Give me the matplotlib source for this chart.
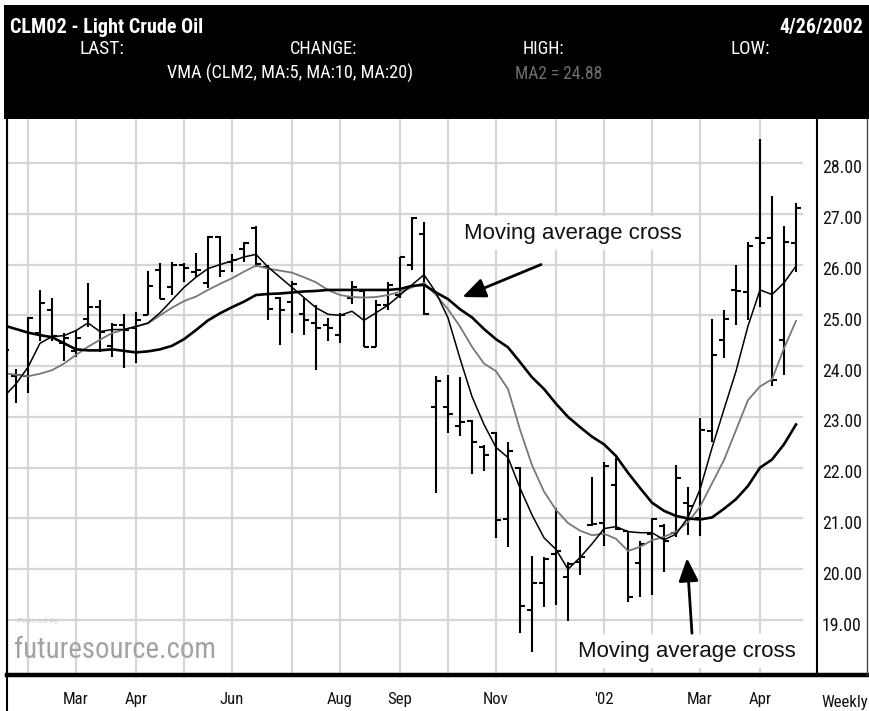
import matplotlib
matplotlib.use("Agg")
import matplotlib.pyplot as plt
import matplotlib.font_manager as fm
from matplotlib.transforms import ScaledTranslation
from matplotlib.lines import Line2D
from matplotlib.patches import Rectangle

# ---------------------------------------------------------------
# CLM02 light crude oil, weekly bars (one entry per week)
# ---------------------------------------------------------------
opens = [24.30, 23.80, 23.80, 24.65, 25.10, 24.45, 24.30, 24.92, 25.16, 24.40,
         24.80, 24.75, 25.00, 25.90, 25.55, 26.00, 25.85, 25.64, 26.55, 26.05,
         26.30, 26.72, 25.95, 25.35, 25.27, 25.02, 24.85, 24.80, 24.62, 25.35,
         25.48, 24.38, 25.20, 25.40, 26.00, 26.60, 23.20, 23.20, 22.82, 22.92,
         22.40, 22.68, 20.98, 22.00, 19.20, 19.73, 20.30, 19.85, 20.15, 20.88,
         20.92, 21.66, 20.75, 20.13, 20.70, 20.85, 20.72, 21.30, 21.00, 22.72,
         24.52, 25.50, 25.45, 26.52, 26.52, 24.52, 26.42]
highs = [24.55, 23.95, 24.97, 25.50, 25.35, 24.65, 24.72, 25.64, 25.30, 24.85,
         25.03, 25.07, 25.87, 26.04, 26.05, 26.03, 26.23, 26.57, 26.57, 26.20,
         26.45, 26.75, 26.00, 25.36, 25.68, 25.35, 25.20, 24.95, 25.05, 25.68,
         25.50, 25.30, 25.65, 26.15, 26.94, 26.84, 23.80, 23.82, 23.78, 22.93,
         22.45, 22.70, 22.50, 22.02, 20.27, 20.25, 21.20, 20.15, 20.65, 21.82,
         22.12, 22.20, 20.75, 20.55, 21.00, 20.90, 22.05, 21.62, 22.98, 24.93,
         25.10, 26.00, 26.45, 28.47, 27.35, 26.75, 27.22]
lows = [24.10, 23.28, 23.47, 24.50, 24.50, 24.10, 24.18, 24.77, 24.27, 24.18,
        23.97, 24.06, 25.00, 25.32, 25.40, 25.66, 25.76, 25.54, 25.75, 25.86,
        26.05, 25.95, 24.90, 24.42, 24.65, 24.62, 23.93, 24.50, 24.45, 25.22,
        24.38, 24.38, 25.10, 25.35, 25.90, 25.00, 21.50, 22.68, 22.62, 21.88,
        21.93, 20.62, 20.44, 18.75, 18.38, 19.26, 19.30, 18.98, 19.88, 20.85,
        20.45, 20.78, 19.36, 19.45, 19.50, 19.95, 20.64, 20.68, 20.66, 22.50,
        24.15, 24.80, 24.90, 25.17, 23.60, 23.82, 25.85]
closes = [24.32, 23.82, 24.95, 25.25, 24.60, 24.55, 24.55, 25.16, 24.68, 24.80,
          24.72, 24.90, 25.58, 25.33, 26.00, 25.93, 25.90, 26.55, 25.88, 26.08,
          26.42, 26.02, 25.12, 25.10, 25.62, 24.90, 24.75, 24.75, 25.00, 25.55,
          24.38, 25.20, 25.60, 26.14, 26.92, 25.03, 23.70, 23.06, 22.90, 22.50,
          22.25, 20.97, 22.32, 19.28, 19.73, 20.20, 20.35, 20.10, 20.25, 20.90,
          22.03, 20.80, 19.46, 20.50, 20.98, 20.55, 21.80, 21.25, 22.75, 24.22,
          24.92, 25.48, 26.37, 26.42, 23.72, 26.45, 27.12]

# moving averages of the close (5, 10 and 20 weeks)
ma5 = [23.40, 23.65, 23.98, 24.45, 24.58, 24.60, 24.70, 24.85, 24.68, 24.72,
       24.72, 24.78, 24.85, 25.05, 25.30, 25.55, 25.75, 25.92, 26.00, 26.07,
       26.15, 26.20, 25.95, 25.75, 25.55, 25.35, 25.15, 25.02, 25.00, 25.08,
       24.90, 25.05, 25.20, 25.40, 25.60, 25.80, 25.45, 24.95, 24.15, 23.40,
       22.85, 22.40, 22.20, 21.60, 21.07, 20.62, 20.39, 20.00, 20.23, 20.50,
       20.80, 20.84, 20.74, 20.72, 20.72, 20.58, 20.69, 21.02, 21.57, 22.39,
       23.15, 23.90, 24.79, 25.50, 25.41, 25.64, 25.97]
ma10 = [23.86, 23.83, 23.80, 23.85, 23.92, 24.05, 24.22, 24.38, 24.52, 24.65,
        24.72, 24.78, 24.84, 25.00, 25.15, 25.28, 25.37, 25.50, 25.62, 25.73,
        25.86, 25.98, 25.92, 25.88, 25.84, 25.75, 25.65, 25.50, 25.40, 25.36,
        25.35, 25.36, 25.40, 25.46, 25.55, 25.64, 25.40, 25.12, 24.78, 24.38,
        24.05, 23.90, 23.55, 22.75, 22.05, 21.53, 21.17, 20.91, 20.76, 20.67,
        20.70, 20.60, 20.36, 20.44, 20.57, 20.64, 20.74, 20.93, 21.23, 21.69,
        22.15, 22.74, 23.33, 23.60, 23.74, 24.35, 24.89]
ma20 = [24.80, 24.73, 24.66, 24.61, 24.57, 24.45, 24.33, 24.31, 24.31, 24.33,
        24.30, 24.27, 24.29, 24.33, 24.40, 24.53, 24.71, 24.90, 25.04, 25.16,
        25.27, 25.40, 25.42, 25.43, 25.45, 25.47, 25.48, 25.50, 25.50, 25.50,
        25.50, 25.50, 25.50, 25.52, 25.58, 25.60, 25.45, 25.32, 25.12, 24.96,
        24.73, 24.53, 24.37, 24.08, 23.78, 23.55, 23.26, 23.00, 22.80, 22.61,
        22.46, 22.23, 21.90, 21.60, 21.31, 21.15, 21.05, 21.00, 20.98, 21.02,
        21.19, 21.38, 21.64, 22.00, 22.16, 22.46, 22.85]

# week index of each month's first bar, and the months that carry a label
month_starts = [2, 6, 11, 15, 19, 24, 28, 33, 37, 41, 46, 50, 54, 58, 63]
month_ticks = [6, 11, 19, 28, 33, 41, 50, 58, 63]
month_labels = ["Mar", "Apr", "Jun", "Aug", "Sep", "Nov", "'02", "Mar", "Apr"]

price_ticks = [19, 20, 21, 22, 23, 24, 25, 26, 27, 28]
price_labels = ["19.00", "20.00", "21.00", "22.00", "23.00",
                "24.00", "25.00", "26.00", "27.00", "28.00"]

symbol_title = "CLM02 - Light Crude Oil"
quote_date = "4/26/2002"
quote_fields = ["LAST:", "CHANGE:", "HIGH:", "LOW:"]
study_title = "VMA (CLM2, MA:5, MA:10, MA:20)"
study_value = "MA2 = 24.88"
note_text = "Moving average cross"

# ---------------------------------------------------------------
W, H = 870, 711
fig = plt.figure(figsize=(W / 100, H / 100), dpi=100)
fig.patch.set_facecolor("white")
renderer = fig.canvas.get_renderer()


def fx(px):
    return px / W


def fy(py):
    return 1 - py / H


installed = {f.name for f in fm.fontManager.ttflist}
NARROW = "Liberation Sans"
for cand in ["Liberation Sans Narrow", "Arial Narrow", "Roboto Condensed",
             "Archivo Narrow", "PT Sans Narrow", "Sofia Sans Condensed",
             "Encode Sans Semi Condensed"]:
    if cand in installed:
        NARROW = cand
        break


def fit_width(txt, target_px):
    """Scale a text's font size so that it spans target_px pixels."""
    w = txt.get_window_extent(renderer).width
    txt.set_fontsize(txt.get_fontsize() * target_px / w)
    return txt


def size_for(sample, target_px, **kw):
    probe = fig.text(0, 0, sample, fontsize=14, **kw)
    w = probe.get_window_extent(renderer).width
    probe.remove()
    return 14 * target_px / w


# black quote header
fig.patches.append(Rectangle((fx(4), fy(119)), 1 - fx(4), fy(5) - fy(119),
                             transform=fig.transFigure, facecolor="black",
                             edgecolor="none", zorder=0))
hdr = dict(color="white", family=NARROW, va="baseline", fontsize=14)
fit_width(fig.text(fx(10), fy(33), symbol_title, fontweight="bold",
                   ha="left", **hdr), 195)
fit_width(fig.text(fx(863), fy(33), quote_date, fontweight="bold",
                   ha="right", **hdr), 83)
for label, left, width in zip(quote_fields, [80, 290, 523, 731],
                              [45, 68, 42, 40]):
    fit_width(fig.text(fx(left), fy(54), label, ha="left", **hdr), width)
fit_width(fig.text(fx(167), fy(79), study_title, ha="left", **hdr), 248)
hdr["color"] = "#6e6e6e"
fit_width(fig.text(fx(515), fy(79), study_value, ha="left", **hdr), 88)

# price panel
ax = fig.add_axes([fx(7), fy(673), fx(817) - fx(7), fy(119) - fy(673)])
ax.set_xlim(0.25, 67.75)
ax.set_ylim(17.957, 28.866)
for side in ("top", "bottom"):
    ax.spines[side].set_visible(False)
ax.spines["left"].set_linewidth(1.5)
ax.spines["right"].set_linewidth(1.5)

grid_kw = dict(color="#d6d6d6", lw=1.6, zorder=0.5)
for m in month_starts:
    ax.axvline(m, **grid_kw)
ax.hlines(price_ticks, 0.25, 66.6, **grid_kw)

weeks = list(range(len(closes)))
bar_kw = dict(color="black", lw=1.5, zorder=3)
tick_w = 0.38
ax.vlines(weeks, lows, highs, **bar_kw)
ax.hlines(opens, [w - tick_w for w in weeks], weeks, **bar_kw)
ax.hlines(closes, weeks, [w + tick_w for w in weeks], **bar_kw)

ax.plot(weeks, ma20, color="black", lw=1.9, zorder=3.2, solid_joinstyle="round")
ax.plot(weeks, ma10, color="#777777", lw=1.3, zorder=3.1, solid_joinstyle="round")
ax.plot(weeks, ma5, color="black", lw=1.1, zorder=3.3, solid_joinstyle="round")

# month labels along the bottom
axis_size = size_for("Mar", 26, family=NARROW)
ax.set_xticks(month_ticks)
ax.set_xticklabels(month_labels, family=NARROW, fontsize=axis_size,
                   color="#111111")
ax.tick_params(axis="x", length=0, pad=14)
ax.set_yticks([])

# price scale on the right
price_size = size_for("28.00", 40, family=NARROW)
lab_off = ScaledTranslation(5 / 100, -10.5 / 100, fig.dpi_scale_trans)
for p, lbl in zip(price_ticks, price_labels):
    ax.text(1.0, p, lbl, transform=ax.get_yaxis_transform() + lab_off,
            ha="left", va="baseline", family=NARROW, fontsize=price_size,
            color="#111111", clip_on=False)
fig.text(fx(821), fy(707), "Weekly", family=NARROW, fontsize=axis_size,
         va="baseline", ha="left", color="#111111")

# frame lines around the panel
fig.add_artist(Line2D([fx(7), fx(870)], [fy(675), fy(675)], color="black",
                      lw=3.2, transform=fig.transFigure))
fig.add_artist(Line2D([fx(7), fx(7)], [fy(119), fy(711)], color="black",
                      lw=1.5, transform=fig.transFigure))
fig.add_artist(Line2D([fx(867), fx(867)], [fy(119), fy(675)], color="#444444",
                      lw=1.0, transform=fig.transFigure))

# annotations
box = dict(facecolor="white", edgecolor="none", boxstyle="square,pad=0.3")
arrow = dict(arrowstyle="-|>,head_length=0.7,head_width=0.3", color="black",
             lw=2.0, shrinkA=0, shrinkB=0, mutation_scale=20)
ax.text(47.4, 26.62, note_text, ha="center", va="center", fontsize=16,
        family="Liberation Sans", color="#111111", bbox=box, zorder=2)
ax.annotate("", xy=(38.2, 25.36), xytext=(44.75, 26.0), arrowprops=arrow,
            zorder=4)
ax.text(56.92, 18.39, note_text, ha="center", va="center", fontsize=16,
        family="Liberation Sans", color="#111111", bbox=box, zorder=2)
ax.annotate("", xy=(56.92, 20.22), xytext=(57.33, 18.74), arrowprops=arrow,
            zorder=4)

# site watermark
fit_width(fig.text(fx(14), fy(658), "futuresource.com", family=NARROW,
                   fontsize=20, color="#a3a3a3", va="baseline", ha="left"), 201)
fig.text(fx(18), fy(623), "Powered by", family="DejaVu Sans", fontsize=5,
         color="#c8c8c8", va="baseline", ha="left")

fig.savefig("out.png", dpi=100, facecolor="white")
